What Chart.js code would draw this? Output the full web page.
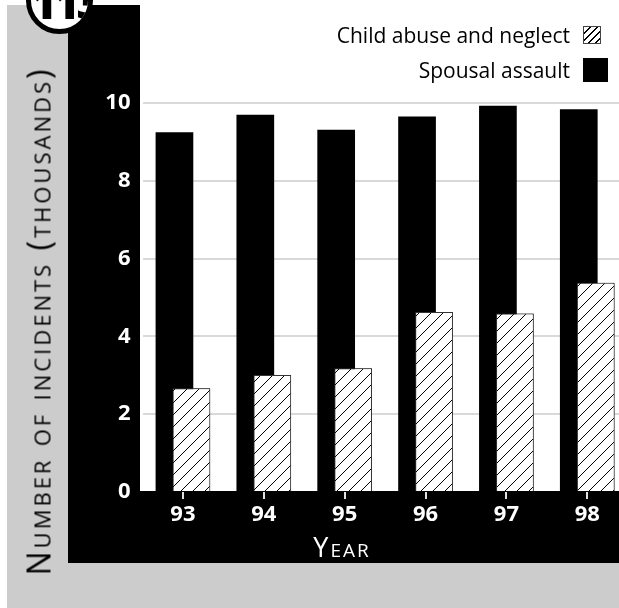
<!DOCTYPE html>
<html>

<head>
  <title>Incidents by year</title>
  <script src="https://cdn.jsdelivr.net/npm/chart.js"></script>
  <style>
    html, body { margin: 0; padding: 0; background: #fff; overflow: hidden; }
    body { width: 619px; height: 608px; position: relative; font-family: 'Open Sans', sans-serif; }
    #gray { position: absolute; left: 7px; top: 5px; width: 640px; height: 620px; background: #cccccc; }
    #panel { position: absolute; left: 68px; top: 5px; width: 600px; height: 558px; background: #000; }
    #plotbg { position: absolute; left: 140px; top: 0; width: 520px; height: 491px; background: #fff; }
    #myChart { position: absolute; left: 0; top: 0; }
    #badge { position: absolute; left: 26px; top: -33px; width: 67px; height: 67px; box-sizing: border-box;
      border: 5px solid #000; border-radius: 50%; background: #fff; overflow: hidden; }
    #badge span { position: absolute; left: 0; right: 0; bottom: 5px; text-align: center;
      font-weight: 800; font-size: 44px; line-height: 44px; letter-spacing: -3px; color: #000; }
    #ytitle { position: absolute; left: 38px; top: 321px; transform: translate(-50%, -50%) rotate(-90deg);
      white-space: nowrap; color: #000; font-size: 32px; font-variant: small-caps; letter-spacing: 3px; }
    #xtitle { position: absolute; left: 342px; top: 546px; transform: translate(-50%, -50%);
      white-space: nowrap; color: #fff; font-size: 27px; font-variant: small-caps; letter-spacing: 2px; }
    .leg { position: absolute; right: 9px; display: flex; align-items: center; font-size: 21px; color: #000; }
    .leg .slot { width: 27px; margin-left: 13px; display: flex; align-items: center; }
    .leg .box { box-sizing: border-box; }
    #leg1 { top: 21px; height: 28px; }
    #leg1 .box { width: 18px; height: 18px; border: 1px solid #444;
      background: repeating-linear-gradient(135deg, #fff 0 4px, #000 4px 5px); }
    #leg2 { top: 56px; height: 28px; }
    #leg2 .box { width: 25px; height: 24px; background: #000; }
  </style>
</head>

<body>
  <div id="gray"></div>
  <div id="panel"></div>
  <div id="plotbg"></div>
  <canvas id="myChart" width="640" height="608"></canvas>
  <div id="badge"><span>113</span></div>
  <div id="ytitle">Number of incidents (thousands)</div>
  <div id="xtitle">Year</div>
  <div class="leg" id="leg1"><span>Child abuse and neglect</span><div class="slot"><div class="box"></div></div></div>
  <div class="leg" id="leg2"><span>Spousal assault</span><div class="slot"><div class="box"></div></div></div>
  <script>
    var years = ['93', '94', '95', '96', '97', '98'];
    var spousalAssault = [9.25, 9.70, 9.31, 9.65, 9.93, 9.84];
    var childAbuse = [2.67, 3.01, 3.18, 4.63, 4.59, 5.38];
    var yTicks = [0, 2, 4, 6, 8, 10];

    // diagonal hatch for the child abuse bars
    function makeHatch() {
      var s = 12;
      var c = document.createElement('canvas');
      c.width = s; c.height = s;
      var g = c.getContext('2d');
      g.fillStyle = '#fff';
      g.fillRect(0, 0, s, s);
      g.strokeStyle = '#000';
      g.lineWidth = 1;
      g.beginPath();
      g.moveTo(0, s); g.lineTo(s, 0);
      g.moveTo(-2, 2); g.lineTo(2, -2);
      g.moveTo(s - 2, s + 2); g.lineTo(s + 2, s - 2);
      g.stroke();
      return g.createPattern(c, 'repeat');
    }

    // hatched bars sit in front of the black ones
    var hatchOnTop = {
      id: 'hatchOnTop',
      afterDatasetsDraw: function (chart) {
        chart.getDatasetMeta(1).controller.draw();
      }
    };

    Chart.defaults.font.family = "'Open Sans', sans-serif";

    var ctx = document.getElementById('myChart').getContext('2d');
    var myChart = new Chart(ctx, {
      type: 'bar',
      data: {
        labels: years,
        datasets: [{
          label: 'Spousal assault',
          data: spousalAssault,
          backgroundColor: '#000',
          borderWidth: 0
        }, {
          label: 'Child abuse and neglect',
          data: childAbuse,
          backgroundColor: makeHatch(),
          borderColor: '#333',
          borderWidth: 1
        }]
      },
      options: {
        responsive: false,
        animation: false,
        devicePixelRatio: 1,
        categoryPercentage: 0.42,
        barPercentage: 2.22,
        layout: { padding: { left: 100, right: 12.3, top: 103, bottom: 76 } },
        plugins: {
          legend: { display: false },
          tooltip: { enabled: false }
        },
        scales: {
          x: {
            afterFit: function (s) { s.height = 40; },
            border: { display: false },
            grid: {
              offset: false,
              drawOnChartArea: false,
              drawTicks: true,
              tickLength: 7,
              color: '#e0e0e0',
              lineWidth: 2
            },
            ticks: { color: '#fff', font: { size: 22, weight: 'bold' }, padding: 3 }
          },
          y: {
            min: 0,
            max: 10,
            afterFit: function (s) { s.width = 42.5; },
            afterBuildTicks: function (s) { s.ticks = yTicks.map(function (v) { return { value: v }; }); },
            border: { display: false },
            grid: {
              drawTicks: false,
              lineWidth: 2,
              color: function (c) { return c.tick && c.tick.value === 0 ? 'rgba(0,0,0,0)' : '#d9d9d9'; }
            },
            ticks: { color: '#fff', font: { size: 22, weight: 'bold' }, padding: 12 }
          }
        }
      },
      plugins: [hatchOnTop]
    });
  </script>
</body>

</html>
